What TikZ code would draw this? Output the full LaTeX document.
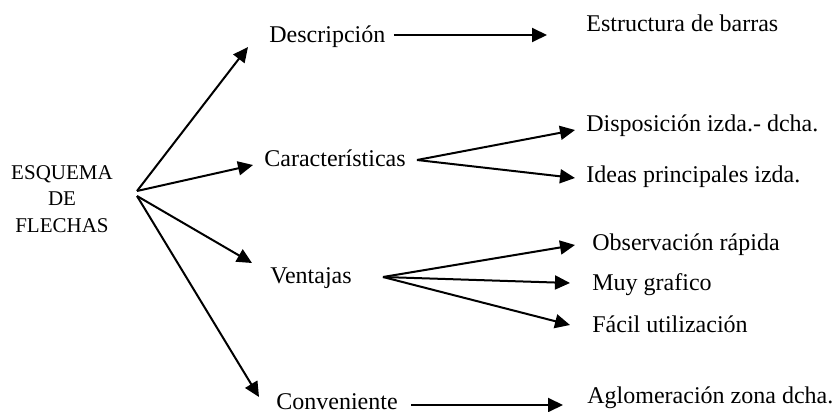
\documentclass[tikz,border=0pt]{standalone}
\usepackage{fontspec}
\setmainfont{Liberation Serif}
\usepackage{tikz}
\usetikzlibrary{arrows.meta}

\tikzset{
  lbl/.style={anchor=base west, inner sep=0pt, font=\fontsize{12}{13.5}\selectfont},
  arr/.style={-{Triangle[length=7.5pt,width=7pt]}, line width=1pt}
}

\begin{document}
\begin{tikzpicture}[x=0.5pt, y=-0.5pt]

  \useasboundingbox (0,0) rectangle (832,412);

  % root
  \node (esq) at (62,199) [inner sep=0pt, align=center, font=\fontsize{10.5}{13.25}\selectfont]
    {ESQUEMA\\DE\\FLECHAS};

  % first level
  \node (desc)  at (269,42)  [lbl] {Descripción};
  \node (carac) at (264,166) [lbl] {Características};
  \node (vent)  at (270,283) [lbl] {Ventajas};
  \node (conv)  at (276,409) [lbl] {Conveniente};

  % second level
  \node (estr)  at (586,32)  [lbl] {Estructura de barras};
  \node (disp)  at (586,131) [lbl] {Disposición izda.- dcha.};
  \node (ideas) at (586,182) [lbl] {Ideas principales izda.};
  \node (obs)   at (592,250) [lbl] {Observación rápida};
  \node (muy)   at (592,290) [lbl] {Muy grafico};
  \node (facil) at (592,332) [lbl] {Fácil utilización};
  \node (aglo)  at (587,403) [lbl] {Aglomeración zona dcha.};

  % fan points
  \coordinate (esq-hi) at (137,191);
  \coordinate (esq-lo) at (137,196);
  \coordinate (carac-hub) at (417,160);
  \coordinate (vent-hub)  at (383,277);

  % arrows from root
  \draw[arr] (esq-hi) -- ([shift={(-21,5)}]desc.base west);
  \draw[arr] (esq-hi) -- ([shift={(-11,-1)}]carac.base west);
  \draw[arr] (esq-lo) -- ([shift={(-18,-20)}]vent.base west);
  \draw[arr] (esq-lo) -- ([shift={(-17,-12)}]conv.base west);

  % arrows to second level
  \draw[arr] ([shift={(8,-7)}]desc.base east) -- ([shift={(-39,3)}]estr.base west);
  \draw[arr] (carac-hub) -- ([shift={(-11,-1)}]disp.base west);
  \draw[arr] (carac-hub) -- ([shift={(-11,-4)}]ideas.base west);
  \draw[arr] (vent-hub) -- ([shift={(-17,-5)}]obs.base west);
  \draw[arr] (vent-hub) -- ([shift={(-22,-7)}]muy.base west);
  \draw[arr] (vent-hub) -- ([shift={(-22,-7)}]facil.base west);
  \draw[arr] ([shift={(13,-4)}]conv.base east) -- ([shift={(-24,2)}]aglo.base west);

\end{tikzpicture}
\end{document}
